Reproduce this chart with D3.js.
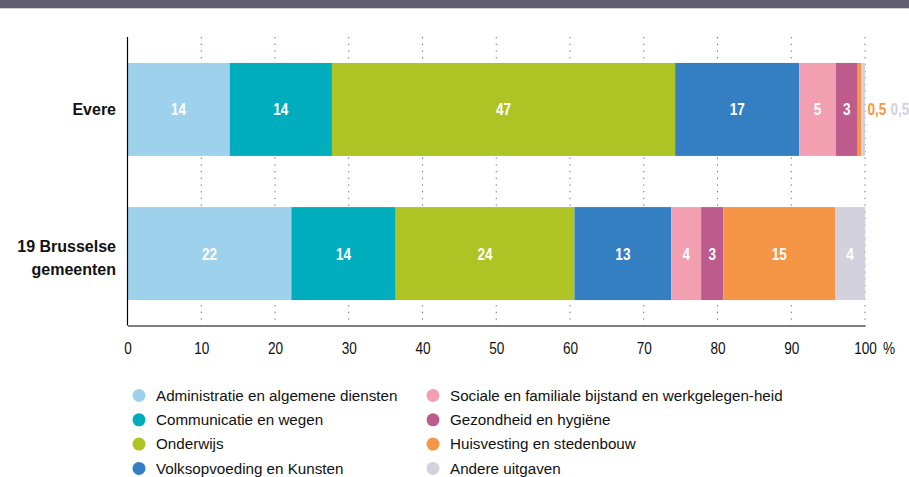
<!DOCTYPE html>
<html>
<head>
<meta charset="utf-8">
<script src="https://cdn.jsdelivr.net/npm/d3@7"></script>
<style>
  html, body { margin: 0; padding: 0; background: #fff; }
  svg { display: block; }
</style>
</head>
<body>
<svg id="chart" width="909" height="477"></svg>
<script>
// Budget shares per function (%), Evere vs. the 19 Brussels municipalities
const categories = ["Evere", "19 Brusselse gemeenten"];
const categoryLines = [["Evere"], ["19 Brusselse", "gemeenten"]];
const series = [
  "Administratie en algemene diensten",
  "Communicatie en wegen",
  "Onderwijs",
  "Volksopvoeding en Kunsten",
  "Sociale en familiale bijstand en werkgelegen-heid",
  "Gezondheid en hygiëne",
  "Huisvesting en stedenbouw",
  "Andere uitgaven"
];
const evereValues = [14, 14, 47, 17, 5, 3, 0.5, 0.5];
const brusselValues = [22, 14, 24, 13, 4, 3, 15, 4];
const tickValues = [0, 10, 20, 30, 40, 50, 60, 70, 80, 90, 100];
const colors = ["#9dd1ec", "#00adbd", "#aec324", "#337fc2", "#f29fb2", "#bd5b8c", "#f49645", "#d2d1dd"];

const rows = categories.map((c, i) => {
  const vals = i === 0 ? evereValues : brusselValues;
  const r = { category: c };
  series.forEach((s, j) => { r[s] = vals[j]; });
  return r;
});

const svg = d3.select("#chart");
const W = 909;
const baseFont = "'Liberation Sans', Arial, sans-serif";
const narrow = 0.8; // horizontal squeeze for the condensed number style

// header band
svg.append("rect").attr("x", 0).attr("y", 0).attr("width", W).attr("height", 8.3).attr("fill", "#625e72");

const plotTop = 37, plotBottom = 325.5;
const x = d3.scaleLinear().domain([0, 100]).range([127.5, 865]);
const y = d3.scaleBand().domain(categories).range([37, 326]).paddingInner(0.355).paddingOuter(0.18);
const color = d3.scaleOrdinal().domain(series).range(colors);

// 100% stacked layout
const stacked = d3.stack().keys(series).offset(d3.stackOffsetExpand)(rows);

// dotted grid
svg.append("g").selectAll("line").data(tickValues.filter(t => t > 0)).join("line")
  .attr("x1", d => x(d)).attr("x2", d => x(d))
  .attr("y1", plotTop).attr("y2", plotBottom)
  .attr("stroke", "#6e6e6e").attr("stroke-width", 1)
  .attr("stroke-dasharray", "1.3 5.4");

// bars
const groups = svg.append("g").selectAll("g").data(stacked).join("g")
  .attr("fill", d => color(d.key));
groups.selectAll("rect").data(d => d.map(p => ({ p, key: d.key }))).join("rect")
  .attr("x", d => x(d.p[0] * 100))
  .attr("y", d => y(d.p.data.category))
  .attr("width", d => x(d.p[1] * 100) - x(d.p[0] * 100))
  .attr("height", y.bandwidth());

// value labels
const fmt = v => String(v).replace(".", ",");
const labelLayer = svg.append("g");
categories.forEach((c, ci) => {
  const cy = y(c) + y.bandwidth() / 2;
  let outsideX = x(100) + 2.5;
  stacked.forEach((layer, si) => {
    const p = layer[ci];
    const v = p.data[layer.key];
    const x0 = x(p[0] * 100), x1 = x(p[1] * 100);
    const w = x1 - x0;
    const inside = w >= 12;
    const t = labelLayer.append("text")
      .attr("text-anchor", inside ? "middle" : "start")
      .attr("font-family", baseFont).attr("font-weight", "bold").attr("font-size", 17)
      .attr("fill", inside ? "#ffffff" : colors[si])
      .text(fmt(v));
    const tx = inside ? (x0 + x1) / 2 : outsideX;
    t.attr("transform", `translate(${tx},${cy + 6}) scale(${narrow},1)`);
    if (!inside) outsideX += t.node().getComputedTextLength() * narrow + 4;
  });
});

// category labels
categories.forEach((c, ci) => {
  const cy = y(c) + y.bandwidth() / 2;
  const lines = categoryLines[ci];
  const base = lines.length === 1 ? [cy + 6] : [cy - 1.5, cy + 21.5];
  lines.forEach((ln, li) => {
    svg.append("text")
      .attr("x", 116).attr("y", base[li])
      .attr("text-anchor", "end")
      .attr("font-family", baseFont)
      .attr("font-weight", "bold").attr("font-size", 16)
      .attr("fill", "#111")
      .text(ln);
  });
});

// y axis line
svg.append("line").attr("x1", x(0)).attr("x2", x(0)).attr("y1", plotTop).attr("y2", plotBottom)
  .attr("stroke", "#000").attr("stroke-width", 1.2);

// x axis
const xAxis = svg.append("g").attr("transform", `translate(0,${plotBottom})`)
  .call(d3.axisBottom(x).tickValues(tickValues).tickSize(0).tickSizeOuter(0).tickPadding(16).tickFormat(d3.format("d")));
xAxis.select(".domain").attr("stroke", "#000").attr("stroke-width", 1.2);
xAxis.selectAll("text")
  .attr("font-family", baseFont).attr("font-size", 17).attr("fill", "#111")
  .attr("transform", `scale(${narrow},1)`);
svg.append("text")
  .attr("transform", `translate(${x(100) + 18},${plotBottom + 16}) scale(${narrow},1)`)
  .attr("dy", "0.71em")
  .attr("font-family", baseFont).attr("font-size", 17).attr("fill", "#111")
  .text("%");

// legend: two columns of four
const legendX = [[139, 156], [433, 450]];
const legendY = [395.5, 419.8, 444.1, 468.4];
const legend = svg.append("g");
series.forEach((s, i) => {
  const col = Math.floor(i / 4), row = i % 4;
  const cy = legendY[row];
  legend.append("circle").attr("cx", legendX[col][0]).attr("cy", cy).attr("r", 6.5).attr("fill", color(s));
  legend.append("text")
    .attr("x", legendX[col][1]).attr("y", cy + 5.3)
    .attr("font-family", baseFont).attr("font-size", 15.2)
    .attr("fill", "#111")
    .text(s);
});
</script>
</body>
</html>
